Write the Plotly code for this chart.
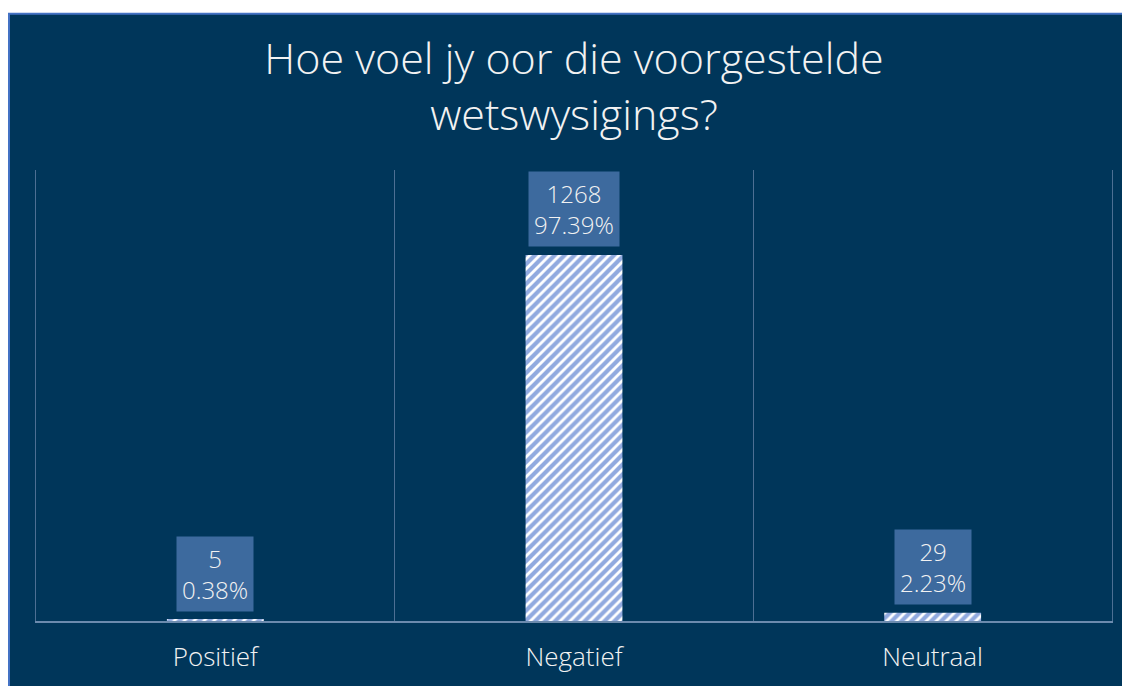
import plotly.graph_objects as go

categories = ["Positief", "Negatief", "Neutraal"]
counts = [5, 1268, 29]
percents = ["0.38%", "97.39%", "2.23%"]
title_text = "Hoe voel jy oor die voorgestelde<br>wetswysigings?"

OFF = 8  # page body margin of the browser
W, H = 1130 - OFF, 686 - OFF
ml, mt = 36 - OFF, 170 - OFF
pw, ph = 1076, 456
mr, mb = W - ml - pw, H - mt - ph

def px_x(x):  # page pixel -> paper
    return (x - OFF - ml) / pw

def px_y(y):
    return (mt + ph - (y - OFF)) / ph

FONT = "Open Sans"
TXT = "#F2F2F2"
GRID = "#4D6F93"

fig = go.Figure()
fig.add_trace(go.Bar(
    x=categories, y=counts, width=0.27,
    marker=dict(
        color="white",
        line=dict(width=0),
        pattern=dict(shape="/", fgcolor="#2456C0", bgcolor="white", size=7, solidity=0.6),
    ),
    hoverinfo="skip",
))

for c, v, p in zip(categories, counts, percents):
    fig.add_annotation(
        x=c, y=v, xref="x", yref="y", text=f"{v}<br>{p}",
        showarrow=False, yanchor="bottom", yshift=8,
        bgcolor="#3D6A9E", borderpad=5,
        font=dict(family=FONT, size=24, color=TXT, weight=300),
    )

# background panel with blue border on top/left
fig.add_shape(type="rect", xref="paper", yref="paper",
              x0=px_x(9), x1=px_x(1140), y0=px_y(700), y1=px_y(12),
              fillcolor="#00365A", line=dict(color="#4472C4", width=2), layer="below")

fig.update_layout(
    width=W, height=H,
    margin=dict(l=ml, r=mr, t=mt, b=mb),
    paper_bgcolor="white", plot_bgcolor="rgba(0,0,0,0)",
    showlegend=False,
    title=dict(text=title_text, x=(574 - OFF) / W, xanchor="center", xref="container",
               y=1 - (74 - OFF) / H, yanchor="middle", yref="container",
               font=dict(family=FONT, size=43, color=TXT, weight=300)),
)
fig.update_xaxes(
    type="category", range=[-0.5, len(categories) - 0.5],
    showgrid=True, gridcolor=GRID, gridwidth=1, tickson="boundaries",
    showline=True, linecolor="#6C8BAE", linewidth=2, ticks="",
    tickfont=dict(family=FONT, size=26, color=TXT, weight=300), ticklabelstandoff=12,
)
fig.update_yaxes(
    range=[0, 1563], showgrid=False, zeroline=False, showticklabels=False,
    showline=True, mirror=True, linecolor=GRID, linewidth=1,
)

fig.write_html("out.html")
